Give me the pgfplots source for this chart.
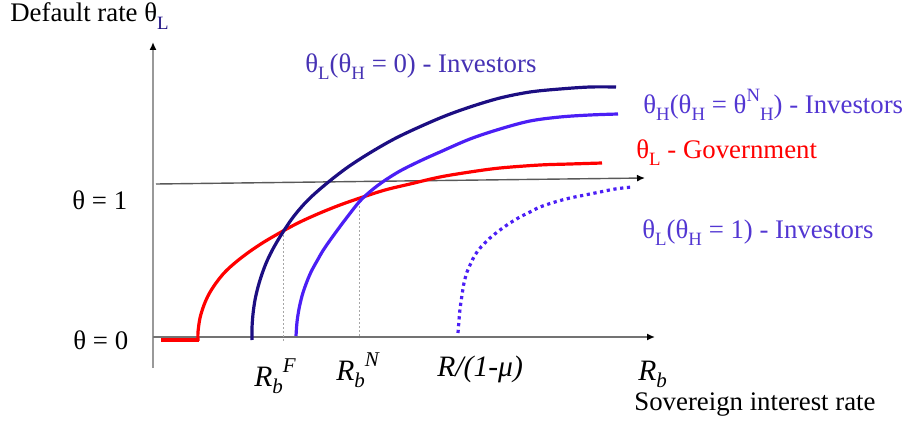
\documentclass[border=0pt]{standalone}
\usepackage{fontspec}
\setmainfont{Liberation Serif}
\usepackage{pgfplots}
\pgfplotsset{compat=1.18}
\usetikzlibrary{arrows.meta}
\definecolor{navy}{HTML}{1C0E82}
\definecolor{vblue}{HTML}{4B1EF5}
\definecolor{labA}{HTML}{4632B4}
\definecolor{labB}{HTML}{5236D2}
\definecolor{redc}{HTML}{FF0000}
\newcommand{\lbl}{\fontsize{13.4bp}{16bp}\selectfont}
\newcommand{\rlbl}{\fontsize{14.8bp}{17bp}\selectfont}
\newcommand{\sub}[1]{\raisebox{-0.27em}{\fontsize{9.4bp}{10bp}\selectfont #1}}
\newcommand{\sups}[1]{\raisebox{0.42em}{\fontsize{9.4bp}{10bp}\selectfont #1}}
\newcommand{\isub}[1]{\raisebox{-0.25em}{\fontsize{10.5bp}{11bp}\selectfont\itshape #1}}
\newcommand{\isup}[1]{\raisebox{0.45em}{\fontsize{10.5bp}{11bp}\selectfont\itshape #1}}
\begin{document}
\begin{tikzpicture}
\begin{axis}[scale only axis, width=453bp, height=211bp,
  xmin=0, xmax=906, ymin=0, ymax=422, y dir=reverse,
  hide axis, clip=false]
\draw[draw=none] (axis cs:0,0) rectangle (axis cs:906,422);
% axes
\addplot[color=black!40, line width=1bp, -{Latex[length=4bp,width=3.5bp,black]}] coordinates {(153,368) (153,42)};
\addplot[color=black!55, line width=0.75bp, -{Latex[length=4bp,width=3.5bp,black]}] coordinates {(153,337) (655,337)};
\addplot[color=black!65, line width=0.7bp, -{Latex[length=4bp,width=3.5bp,black]}] coordinates {(156,184) (645,178)};
% dashed guides
\addplot[color=black!35, line width=0.5bp, dash pattern=on 1bp off 1bp] coordinates {(283,231) (283,342)};
\addplot[color=black!35, line width=0.5bp, dash pattern=on 1bp off 1bp] coordinates {(359,198) (359,338)};
% red government curve
\addplot[color=redc, line width=1.6bp] coordinates {(161,340) (199,340)};
\addplot[color=redc, line width=1.6bp, smooth, tension=0.55] coordinates {
(198,341) (198,332) (200,318) (204,305) (209,294) (216,283)
(225,272) (236,262) (249,252) (264,242) (283,231) (300,222) (320,213) (340,205)
(360,198) (385,190) (410,184) (440,177) (470,172) (500,168) (540,165) (570,164) (602,163)};
% navy curve theta_H = 0
\addplot[color=navy, line width=1.6bp, smooth, tension=0.55] coordinates {
(252,340) (252,328) (253,314) (255,300) (258,287) (262,274) (267,261) (274,247)
(283,232) (294,216) (308,200) (326,184) (348,167) (373,151) (400,136) (440,118)
(470,107) (500,98) (530,92) (560,89) (590,87) (616,87)};
% blue curve theta_H = theta^N_H
\addplot[color=vblue, line width=1.6bp, smooth, tension=0.55] coordinates {
(296,336) (297,322) (299,309) (302,296) (306,284) (311,272) (317,261) (324,249)
(336,232) (348,216) (360,201) (372,190) (384,181) (400,171) (420,161) (440,152)
(470,139) (500,129) (530,121) (560,117) (590,115) (618,114)};
% dotted curve theta_H = 1
\addplot[color=vblue, line width=1.6bp, dash pattern=on 1.6bp off 1.8bp, smooth, tension=0.55] coordinates {
(458,333) (459,320) (460,309) (462,295) (464,283) (467,272) (471,263) (475,255)
(481,247) (490,238) (500,230) (510,223) (520,217) (530,212) (540,207) (555,202)
(570,198) (585,195) (600,192) (615,189) (632,187)};
% texts
\node[anchor=base west, inner sep=0pt, font=\lbl] at (axis cs:10,22) {Default rate θ\textcolor{navy}{\sub{L}}};
\node[anchor=base west, inner sep=0pt, font=\lbl, text=labA] at (axis cs:305,72) {θ\sub{L}(θ\sub{H} = 0) - Investors};
\node[anchor=base west, inner sep=0pt, font=\lbl, text=labB] at (axis cs:643,113) {θ\sub{H}(θ\sub{H} = θ\sups{N}\sub{H}) - Investors};
\node[anchor=base west, inner sep=0pt, font=\lbl, text=redc] at (axis cs:636,158) {θ\sub{L} - Government};
\node[anchor=base west, inner sep=0pt, font=\lbl, text=labB] at (axis cs:642,238) {θ\sub{L}(θ\sub{H} = 1) - Investors};
\node[anchor=base west, inner sep=0pt, font=\lbl] at (axis cs:72,209) {θ = 1};
\node[anchor=base west, inner sep=0pt, font=\lbl] at (axis cs:73,349) {θ = 0};
\node[anchor=base west, inner sep=0pt, font=\rlbl] at (axis cs:254,386) {\textit{R}\isub{b}\isup{F}};
\node[anchor=base west, inner sep=0pt, font=\rlbl] at (axis cs:336,380) {\textit{R}\isub{b}\isup{N}};
\node[anchor=base west, inner sep=0pt, font=\rlbl] at (axis cs:437,376) {\textit{R/(1-μ)}};
\node[anchor=base west, inner sep=0pt, font=\rlbl] at (axis cs:638,380) {\textit{R}\isub{b}};
\node[anchor=base west, inner sep=0pt, font=\lbl] at (axis cs:634,410) {Sovereign interest rate};
\end{axis}
\end{tikzpicture}
\end{document}
